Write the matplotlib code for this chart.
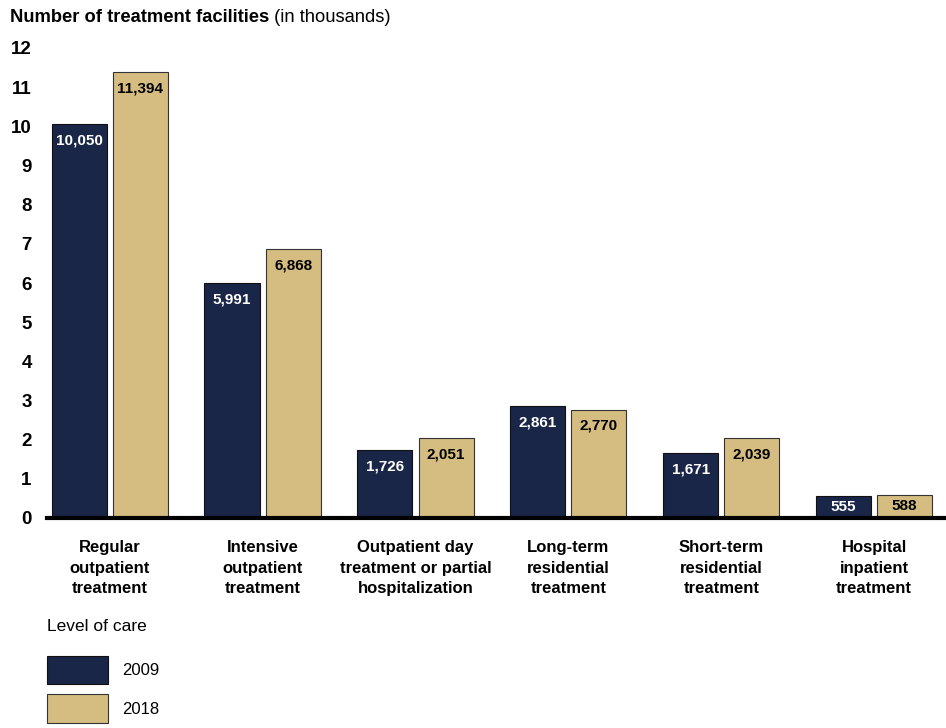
import matplotlib.pyplot as plt
import numpy as np

categories = ["Regular\noutpatient\ntreatment", "Intensive\noutpatient\ntreatment",
              "Outpatient day\ntreatment or partial\nhospitalization", "Long-term\nresidential\ntreatment",
              "Short-term\nresidential\ntreatment", "Hospital\ninpatient\ntreatment"]
years = ["2009", "2018"]
vals_2009 = [10050, 5991, 1726, 2861, 1671, 555]
vals_2018 = [11394, 6868, 2051, 2770, 2039, 588]
yticks = list(range(0, 13))

navy = "#1a2648"
gold = "#d5bd82"

plt.rcParams['font.family'] = ['Liberation Sans', 'DejaVu Sans']

fig = plt.figure(figsize=(9.46, 7.28), dpi=100)
W, H = 946, 728
ax = fig.add_axes([47 / W, (H - 518) / H, 1 - 47 / W, (518 - 48) / H])

x = np.arange(len(categories))
w = 0.36
gap = 0.04
a = np.array(vals_2009) / 1000
b = np.array(vals_2018) / 1000
bars1 = ax.bar(x - w / 2 - gap / 2, a, w, color=navy, edgecolor="#111111", linewidth=0.8, label=years[0])
bars2 = ax.bar(x + w / 2 + gap / 2, b, w, color=gold, edgecolor="#333333", linewidth=0.8, label=years[1])

# value labels just inside the top of each bar (centred if the bar is short)
for bars, vals, col in [(bars1, vals_2009, "white"), (bars2, vals_2018, "black")]:
    for r, v in zip(bars, vals):
        h = r.get_height()
        ypos = max(h - 0.42, h / 2)
        ax.text(r.get_x() + r.get_width() / 2, ypos, f"{v:,}", ha="center", va="center",
                color=col, fontsize=11, fontweight="bold")

ax.set_xlim(-0.41, 5.47)
ax.set_ylim(0, 12)
ax.set_yticks(yticks)
ax.set_yticklabels([str(t) for t in yticks], fontsize=13.5, fontweight="bold")
ax.set_xticks(x)
ax.set_xticklabels(categories, fontsize=12, fontweight="bold", linespacing=1.45)
ax.tick_params(axis="y", length=0, pad=11)
ax.tick_params(axis="x", length=0, pad=16)
for s in ["top", "right", "left"]:
    ax.spines[s].set_visible(False)
ax.spines["bottom"].set_linewidth(3)
ax.spines["bottom"].set_color("black")

t1 = fig.text(10 / W, 1 - 18 / H, "Number of treatment facilities", fontsize=13.2, fontweight="bold",
              va="center", ha="left")
ax.annotate(" (in thousands)", xy=(1, 0.5), xycoords=t1, fontsize=13.2, va="center", ha="left",
            annotation_clip=False)

leg = fig.legend(handles=[bars1, bars2], labels=years, title="Level of care", loc="upper left",
                 bbox_to_anchor=(40 / W, 1 - 612 / H), frameon=False, fontsize=12,
                 title_fontsize=12.5, alignment="left", handlelength=3.65, handleheight=2.25,
                 labelspacing=0.6, handletextpad=0.9, borderaxespad=0)
leg._legend_box.sep = 16

fig.savefig("out.png", dpi=100)
